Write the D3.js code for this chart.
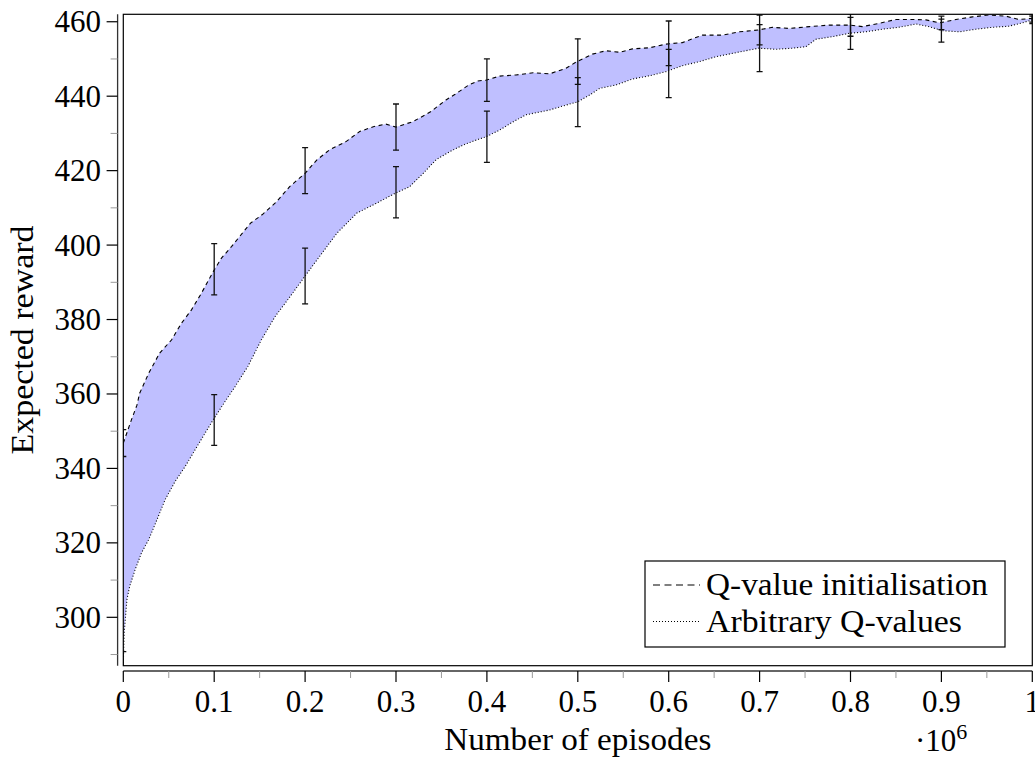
<!DOCTYPE html>
<html><head><meta charset="utf-8">
<script src="https://cdn.jsdelivr.net/npm/d3@7"></script>
<style>body{margin:0;background:#fff}svg{display:block}text{font-family:"Liberation Serif","Times New Roman",serif;fill:#000}</style>
</head><body>
<svg id="c" width="1035" height="758"></svg>
<script>
// ---- data (x in units of 10^6 episodes) ----
const initX = [0,0.009,0.015,0.018,0.028,0.040,0.053,0.064,0.075,0.086,0.099,0.108,0.119,0.128,0.140,0.153,0.168,0.183,0.200,0.213,0.227,0.245,0.260,0.275,0.289,0.300,0.319,0.338,0.355,0.365,0.380,0.390,0.399,0.414,0.432,0.451,0.469,0.487,0.499,0.516,0.531,0.546,0.560,0.579,0.597,0.615,0.637,0.659,0.678,0.699,0.714,0.733,0.755,0.777,0.799,0.813,0.832,0.850,0.868,0.883,0.898,0.916,0.934,0.952,0.971,0.985,1.000];
const initY = [346.8,353.1,357.0,360.2,365.6,371.0,374.5,379.0,382.6,387.1,392.9,396.5,399.6,402.3,405.9,408.2,411.5,415.7,419.3,422.9,425.6,427.8,430.5,431.8,432.5,431.7,433.2,435.8,439.0,440.5,443.0,444.1,444.3,445.4,445.7,446.3,446.0,447.5,449.3,451.3,452.2,451.8,452.7,453.0,454.0,454.4,456.4,456.4,457.3,457.8,458.5,458.2,458.7,459.1,459.1,458.7,459.6,460.6,460.6,460.5,459.7,460.6,461.3,461.8,461.5,460.6,460.9];
const arbX = [0,0.001,0.004,0.007,0.013,0.020,0.028,0.037,0.046,0.057,0.068,0.079,0.090,0.100,0.112,0.123,0.137,0.152,0.167,0.183,0.200,0.213,0.235,0.257,0.278,0.299,0.315,0.330,0.344,0.359,0.374,0.388,0.399,0.414,0.428,0.443,0.469,0.487,0.500,0.513,0.524,0.542,0.560,0.579,0.597,0.615,0.634,0.652,0.670,0.699,0.718,0.736,0.751,0.762,0.780,0.799,0.817,0.835,0.853,0.872,0.886,0.901,0.920,0.938,0.956,0.974,0.989,1.000];
const arbY = [287.8,295.8,304.8,308.3,312.8,317.3,320.9,326.2,331.6,336.5,340.5,345.0,349.5,353.5,358.0,362.0,367.4,374.6,380.8,386.0,391.7,396.0,403.2,408.6,411.2,413.9,415.7,419.3,422.9,425.1,426.9,428.2,429.1,430.9,433.0,435.0,436.3,437.6,438.5,440.3,442.1,443.0,444.6,445.5,446.6,448.2,449.3,450.6,451.5,452.9,452.6,452.9,453.3,455.3,456.0,456.9,457.3,458.0,458.5,459.4,458.7,457.6,457.3,458.0,458.5,458.8,459.7,460.5];
const errX = [0,0.1,0.2,0.3,0.4,0.5,0.6,0.7,0.8,0.9,1.0];
const initMean = [346.8,393.5,420.0,431.7,444.3,449.3,454.2,457.8,459.1,459.7,460.9];
const initErr  = [3.6,6.9,6.2,6.2,5.7,6.1,6.0,4.0,3.0,1.8,1.0];
const arbMean  = [287.8,353.0,391.7,414.2,429.1,438.4,446.1,452.9,456.9,457.6,460.5];
const arbErr   = [3.0,6.8,7.5,6.9,6.9,6.6,6.5,6.3,4.3,3.1,1.0];
const xMajor = [0,0.1,0.2,0.3,0.4,0.5,0.6,0.7,0.8,0.9,1];
const xMajorLabels = ["0","0.1","0.2","0.3","0.4","0.5","0.6","0.7","0.8","0.9","1"];
const xMinor = [0.05,0.15,0.25,0.35,0.45,0.55,0.65,0.75,0.85,0.95];
const yMajor = [300,320,340,360,380,400,420,440,460];
const yMinor = [290,310,330,350,370,390,410,430,450];
const legendLabels = ["Q-value initialisation","Arbitrary Q-values"];

// ---- layout ----
const L = 123.3, R = 1032.3, T = 14.3, B = 665.7;
const x = d3.scaleLinear().domain([0,1]).range([L,R]);
const y = d3.scaleLinear().domain([287,462]).range([B,T]);
const svg = d3.select("#c");

svg.append("clipPath").attr("id","clip").append("rect")
  .attr("x",L).attr("y",T).attr("width",R-L).attr("height",B-T);
const plot = svg.append("g").attr("clip-path","url(#clip)");

// fill between
const upperPts = initX.map((d,i)=>[d,initY[i]]);
const lowerPts = arbX.map((d,i)=>[d,arbY[i]]);
const poly = upperPts.concat(lowerPts.slice().reverse());
const line = d3.line().x(d=>x(d[0])).y(d=>y(d[1]));
plot.append("path").attr("d", line(poly)+"Z")
  .attr("fill","#bfbfff").attr("stroke","none");

plot.append("path").attr("d",line(upperPts)).attr("fill","none").attr("stroke","#000")
  .attr("stroke-width",1.1).attr("stroke-dasharray","4,3.5");
plot.append("path").attr("d",line(lowerPts)).attr("fill","none").attr("stroke","#000")
  .attr("stroke-width",1.1).attr("stroke-dasharray","1,2");

// error bars
function errBars(means, errs){
  const g = plot.append("g").attr("stroke","#111").attr("stroke-width",1.3);
  errX.forEach((xv,i)=>{
    const px = x(xv), y1 = y(means[i]+errs[i]), y2 = y(means[i]-errs[i]);
    g.append("line").attr("x1",px).attr("x2",px).attr("y1",y1).attr("y2",y2);
    g.append("line").attr("x1",px-3).attr("x2",px+3).attr("y1",y1).attr("y2",y1);
    g.append("line").attr("x1",px-3).attr("x2",px+3).attr("y1",y2).attr("y2",y2);
  });
}
errBars(initMean, initErr);
errBars(arbMean, arbErr);

// box
svg.append("rect").attr("x",L).attr("y",T).attr("width",R-L).attr("height",B-T)
  .attr("fill","none").attr("stroke","#000").attr("stroke-width",1.2);

// y axis (separate, offset left)
const yAx = 117.6;
svg.append("line").attr("x1",yAx).attr("x2",yAx).attr("y1",T).attr("y2",B)
  .attr("stroke","#333").attr("stroke-width",1.3);
yMinor.forEach(v=>svg.append("line").attr("x1",yAx-7).attr("x2",yAx).attr("y1",y(v)).attr("y2",y(v))
  .attr("stroke","#999").attr("stroke-width",1));
yMajor.forEach(v=>{
  svg.append("line").attr("x1",yAx-11).attr("x2",yAx).attr("y1",y(v)).attr("y2",y(v))
    .attr("stroke","#000").attr("stroke-width",1.2);
  svg.append("text").attr("x",101).attr("y",y(v)+10.5).attr("text-anchor","end")
    .attr("font-size",31).text(v);
});

// x axis (separate, offset down)
const xAx = 671;
svg.append("line").attr("x1",L).attr("x2",R).attr("y1",xAx).attr("y2",xAx)
  .attr("stroke","#333").attr("stroke-width",1.3);
xMinor.forEach(v=>svg.append("line").attr("x1",x(v)).attr("x2",x(v)).attr("y1",xAx).attr("y2",xAx+7)
  .attr("stroke","#999").attr("stroke-width",1));
xMajor.forEach((v,i)=>{
  svg.append("line").attr("x1",x(v)).attr("x2",x(v)).attr("y1",xAx).attr("y2",xAx+11)
    .attr("stroke","#000").attr("stroke-width",1.2);
  svg.append("text").attr("x",x(v)).attr("y",711.5).attr("text-anchor","middle")
    .attr("font-size",31).text(xMajorLabels[i]);
});

// axis labels
svg.append("text").attr("x",(L+R)/2).attr("y",750).attr("text-anchor","middle")
  .attr("font-size",31).attr("textLength",267).attr("lengthAdjust","spacingAndGlyphs")
  .text("Number of episodes");
const sc = svg.append("text").attr("x",915).attr("y",751).attr("font-size",31);
sc.append("tspan").text("·10");
sc.append("tspan").attr("font-size",22).attr("dy",-12).text("6");
svg.append("text").attr("transform","translate(33,340) rotate(-90)").attr("text-anchor","middle")
  .attr("font-size",31).attr("textLength",229).attr("lengthAdjust","spacingAndGlyphs")
  .text("Expected reward");

// legend
const lg = svg.append("g");
lg.append("rect").attr("x",645).attr("y",561).attr("width",360).attr("height",86)
  .attr("fill","#fff").attr("stroke","#000").attr("stroke-width",1.2);
lg.append("line").attr("x1",653).attr("x2",700).attr("y1",585).attr("y2",585)
  .attr("stroke","#000").attr("stroke-width",1.1).attr("stroke-dasharray","7,4.5");
lg.append("line").attr("x1",653).attr("x2",700).attr("y1",621.5).attr("y2",621.5)
  .attr("stroke","#000").attr("stroke-width",1.1).attr("stroke-dasharray","1,2");
lg.append("text").attr("x",706).attr("y",595).attr("font-size",31)
  .attr("textLength",282).attr("lengthAdjust","spacingAndGlyphs").text(legendLabels[0]);
lg.append("text").attr("x",706).attr("y",631.5).attr("font-size",31)
  .attr("textLength",256).attr("lengthAdjust","spacingAndGlyphs").text(legendLabels[1]);
</script>
</body></html>
